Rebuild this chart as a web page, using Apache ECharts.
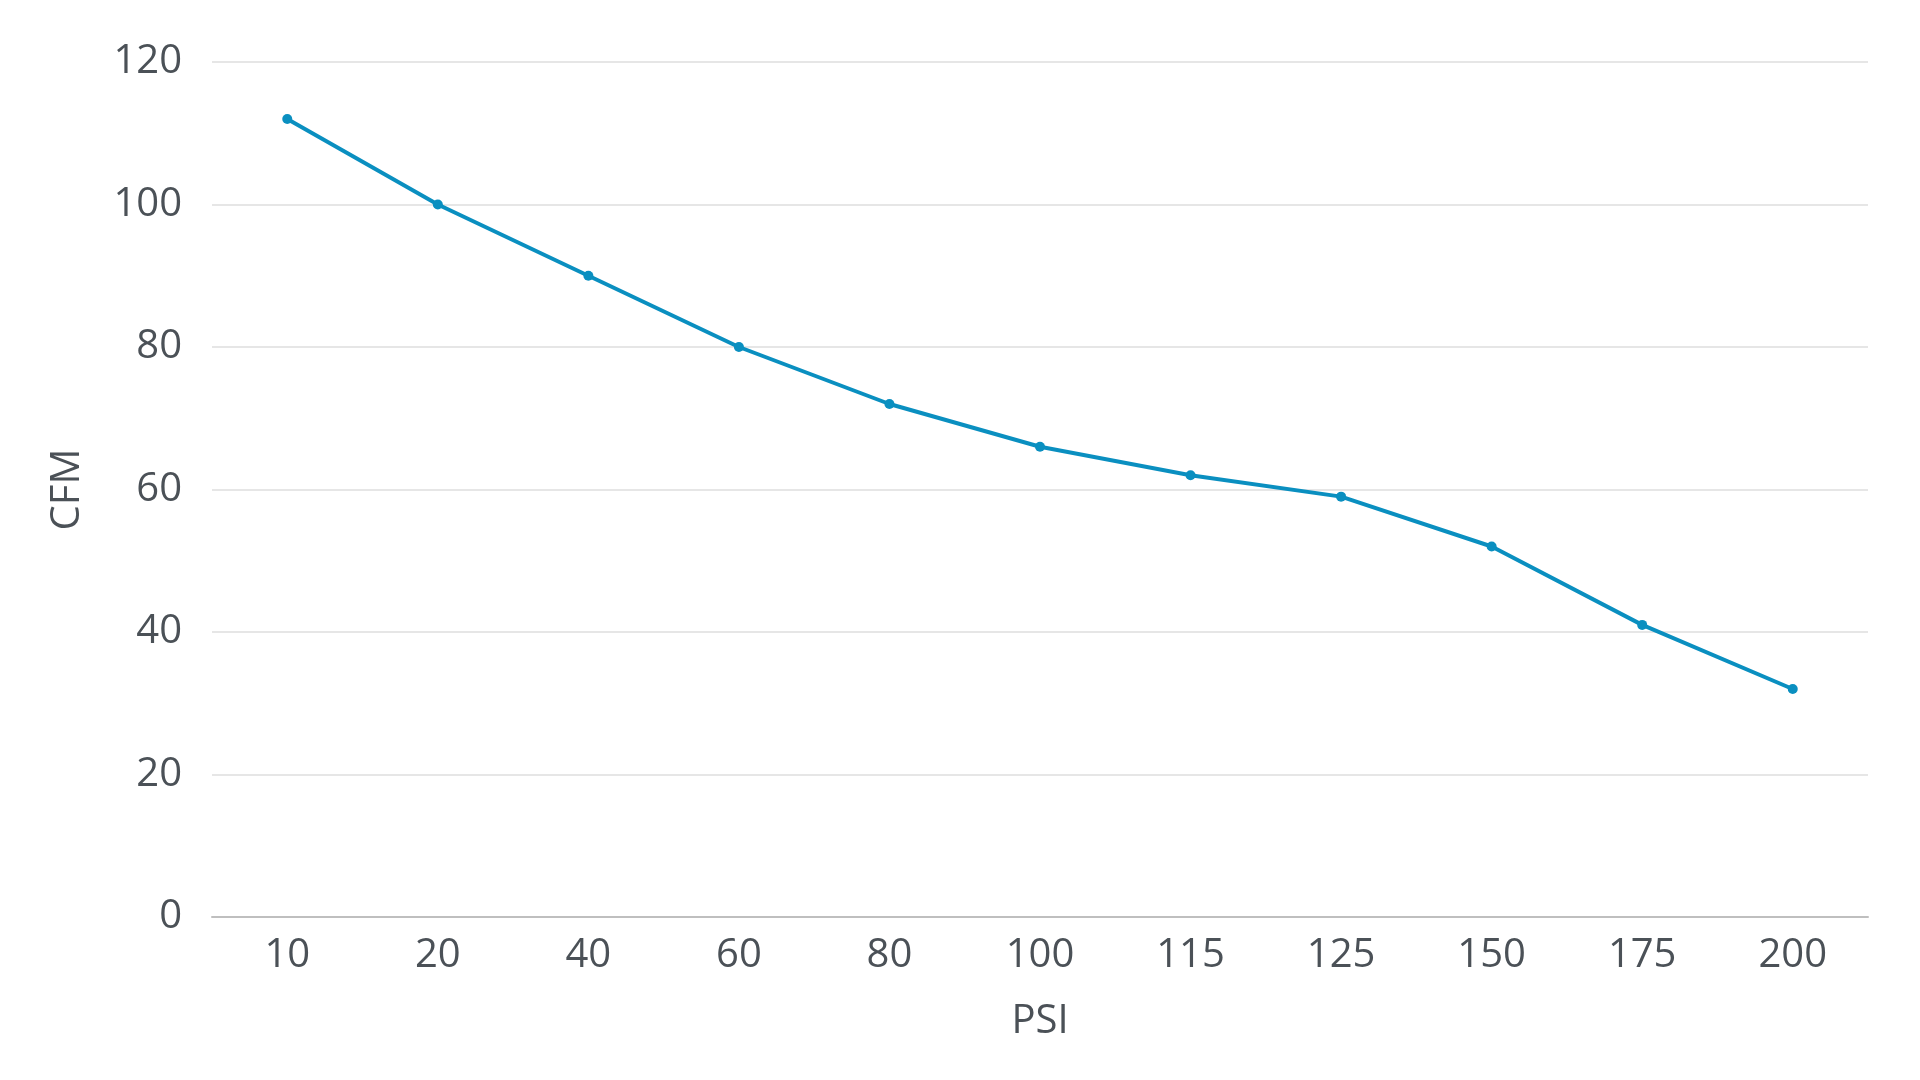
<!DOCTYPE html>
<html>
<head>
<meta charset="utf-8">
<script src="https://cdn.jsdelivr.net/npm/echarts@6/dist/echarts.min.js"></script>
<style>
html,body{margin:0;padding:0;background:#fff;}
#chart{width:1920px;height:1080px;}
</style>
</head>
<body>
<div id="chart"></div>
<script>
const categories = ['10','20','40','60','80','100','115','125','150','175','200'];
const cfmValues = [112, 100, 90, 80, 72, 66, 62, 59, 52, 41, 32];
const yTicks = { min: 0, max: 120, interval: 20 };

const textColor = '#4b5157';
const fontFamily = '"Open Sans", "Noto Sans", sans-serif';

const chart = echarts.init(document.getElementById('chart'), null, { renderer: 'canvas' });
chart.setOption({
  backgroundColor: '#ffffff',
  animation: false,
  grid: { left: 212, right: 52, top: 62, bottom: 163, containLabel: false },
  xAxis: {
    type: 'category',
    data: categories,
    boundaryGap: true,
    name: 'PSI',
    nameLocation: 'middle',
    nameGap: 85,
    nameTextStyle: { color: textColor, fontSize: 40, fontFamily: fontFamily },
    axisLine: { show: true, lineStyle: { color: '#bfbfbf', width: 2 } },
    axisTick: { show: false },
    axisLabel: { color: textColor, fontSize: 40, fontFamily: fontFamily, margin: 19 },
    splitLine: { show: false }
  },
  yAxis: {
    type: 'value',
    min: yTicks.min,
    max: yTicks.max,
    interval: yTicks.interval,
    name: 'CFM',
    nameLocation: 'middle',
    nameGap: 124,
    nameTextStyle: { color: textColor, fontSize: 40, fontFamily: fontFamily },
    axisLine: { show: false },
    axisTick: { show: false },
    axisLabel: { color: textColor, fontSize: 40, fontFamily: fontFamily, margin: 30, padding: [6, 0, 0, 0] },
    splitLine: { show: true, lineStyle: { color: '#dedede', width: 1.5 } }
  },
  series: [{
    type: 'line',
    data: cfmValues,
    symbol: 'circle',
    symbolSize: 10,
    showSymbol: true,
    lineStyle: { color: '#0a8fc0', width: 4 },
    itemStyle: { color: '#0a8fc0' },
    label: { show: false }
  }]
});
</script>
</body>
</html>
